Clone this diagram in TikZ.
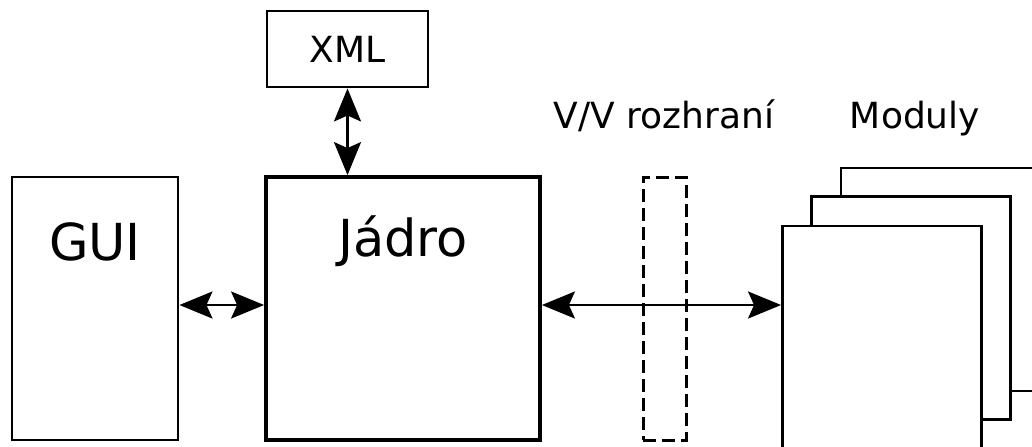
\documentclass[tikz,border=0pt]{standalone}
\usepackage{fontspec}
\setmainfont{DejaVu Sans}
\usetikzlibrary{arrows.meta}
\begin{document}
\begin{tikzpicture}[x=0.5pt,y=-0.5pt,
  blk/.style={draw, line width=1.45pt, fill=white, inner sep=0pt, rectangle},
  core/.style={blk, line width=1.9pt},
  iface/.style={draw, line width=1.5pt, dash pattern=on 6.5pt off 3pt, inner sep=0pt,
    minimum width=21.5pt, minimum height=131.5pt},
  modbox/.style={blk, minimum width=99.5pt, minimum height=111.5pt},
  biarrow/.style={line width=1.3pt, {Stealth[length=16.5pt,width=13.5pt,inset=3pt]}-{Stealth[length=16.5pt,width=13.5pt,inset=3pt]}},
  bigtxt/.style={font=\fontsize{25.5pt}{30pt}\selectfont, inner sep=0pt, anchor=base},
  smalltxt/.style={font=\fontsize{18pt}{21pt}\selectfont, inner sep=0pt}]
  \useasboundingbox (0,0) rectangle (1032,446);
  \clip (0,0) rectangle (1032,446);

  % main blocks
  \node[blk, minimum width=83pt, minimum height=131.5pt] (gui) at (95,308.5) {};
  \node[core, minimum width=137pt, minimum height=131.5pt] (jadro) at (403,308.5) {};
  \node[blk, minimum width=80.5pt, minimum height=38pt] (xml) at (347.5,49) {};
  \node[smalltxt] (xmltxt) at (xml.center) {XML};
  \node[bigtxt] (guitxt) at (95,260) {GUI};
  \node[bigtxt] (jadrotxt) at (403,256) {Jádro};

  % I/O interface
  \node[iface] (io) at (664.5,308.5) {};
  \node[smalltxt, anchor=base] (iotxt) at (664,128) {V/V rozhraní};

  % stack of modules, back to front
  \node[modbox] (mod3) at (940.5,279.5) {};
  \node[modbox] (mod2) at (911,308) {};
  \node[modbox] (mod1) at (882,337.5) {};
  \node[smalltxt, anchor=base] (modtxt) at (915,128) {Moduly};

  % connections
  \draw[biarrow] (xml.south) -- (xml.south |- jadro.north);
  \draw[biarrow] ([yshift=1.75pt]gui.east) -- ([yshift=1.75pt]jadro.west);
  \draw[biarrow] ([yshift=1.75pt]jadro.east) -- ([yshift=1.75pt]jadro.east -| mod1.west);
\end{tikzpicture}
\end{document}
